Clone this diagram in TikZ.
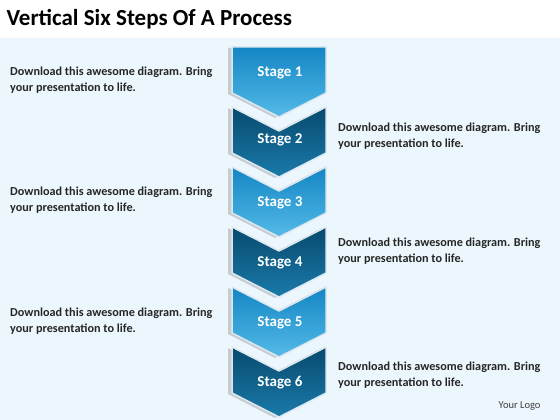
\documentclass[tikz,border=0pt]{standalone}
\usepackage{fontspec}
\setmainfont{Carlito}
\usepackage{tikz}
\usetikzlibrary{positioning}

\definecolor{lightA}{RGB}{20,134,196}
\definecolor{lightB}{RGB}{84,186,232}
\definecolor{darkA}{RGB}{8,74,110}
\definecolor{darkB}{RGB}{26,122,170}
\definecolor{bevel}{RGB}{220,232,240}
\definecolor{bgfill}{RGB}{236,247,253}

\begin{document}
\begin{tikzpicture}[
  x=1pt, y=-1pt,
  title/.style={anchor=west, font=\fontsize{23}{27}\selectfont\bfseries, text=black},
  stagelbl/.style={font=\fontsize{15}{18}\selectfont\bfseries, text=white},
  note/.style={align=left, font=\fontsize{12.2}{16}\selectfont\bfseries, text=black!85, inner sep=0pt},
  chevlight/.style={top color=lightA, bottom color=lightB, draw=bevel, line width=1.5pt, line join=round},
  chevdark/.style={top color=darkA, bottom color=darkB, draw=bevel, line width=1.5pt, line join=round},
  shade/.style={fill=black!40, opacity=0.45},
]

\useasboundingbox (0,0) rectangle (560,420);

% Background
\fill[white] (0,0) rectangle (560,38);
\fill[bgfill] (0,38) rectangle (560,420);

% Title
\node[title] (title) at (3,19) {Vertical Six Steps Of A Process};

% Stage 1 (flat top)
\fill[shade] (228,48) -- (322,48) -- (322,94) -- (275,118) -- (228,94) -- cycle;
\draw[chevlight] (232,47) -- (326,47) -- (326,93) -- (279,117) -- (232,93) -- cycle;

% Stages 2 to 6 (notched top)
\foreach \i/\sty in {2/chevdark,3/chevlight,4/chevdark,5/chevlight,6/chevdark}{
  \pgfmathsetmacro{\tc}{107+(\i-2)*60}
  \fill[shade] (228,\tc+1) -- (275,\tc+25) -- (322,\tc+1) -- (322,\tc+47) -- (275,\tc+71) -- (228,\tc+47) -- cycle;
  \draw[\sty] (232,\tc) -- (279,\tc+24) -- (326,\tc) -- (326,\tc+46) -- (279,\tc+70) -- (232,\tc+46) -- cycle;
}

% Stage labels
\node[stagelbl] (s1) at (280,73) {Stage 1};
\node[stagelbl] (s2) at (280,140) {Stage 2};
\node[stagelbl] (s3) at (280,203) {Stage 3};
\node[stagelbl] (s4) at (280,263) {Stage 4};
\node[stagelbl] (s5) at (280,323) {Stage 5};
\node[stagelbl] (s6) at (280,383) {Stage 6};

% Notes (left side)
\node[note, anchor=west] (n1) at (10,80) {Download this awesome diagram. Bring\\your presentation to life.};
\node[note, anchor=west] (n3) at (10,200) {Download this awesome diagram. Bring\\your presentation to life.};
\node[note, anchor=west] (n5) at (10,321) {Download this awesome diagram. Bring\\your presentation to life.};

% Notes (right side)
\node[note, anchor=west] (n2) at (338,136) {Download this awesome diagram. Bring\\your presentation to life.};
\node[note, anchor=west] (n4) at (338,251) {Download this awesome diagram. Bring\\your presentation to life.};
\node[note, anchor=west] (n6) at (338,375) {Download this awesome diagram. Bring\\your presentation to life.};

% Logo
\node[font=\fontsize{10.5}{12}\selectfont, text=black!75, anchor=east] (logo) at (544,406) {Your Logo};

\end{tikzpicture}
\end{document}
